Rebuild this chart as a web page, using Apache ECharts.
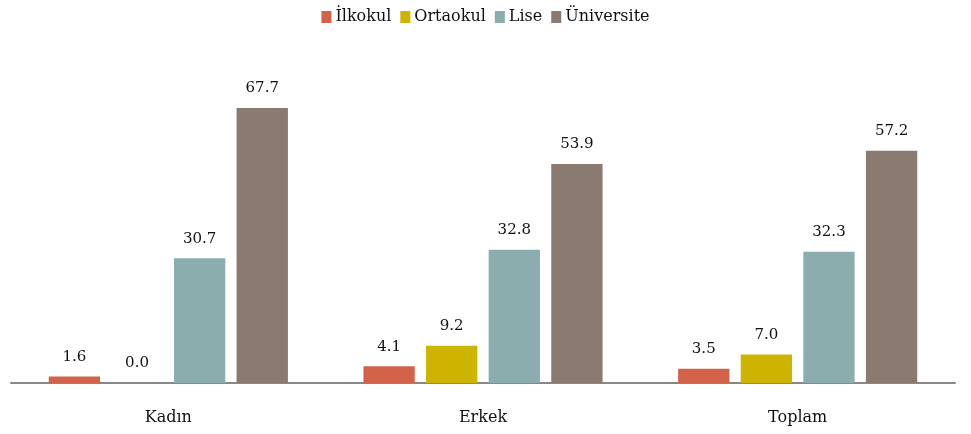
<!DOCTYPE html>
<html>
<head>
<meta charset="utf-8">
<script src="https://cdn.jsdelivr.net/npm/echarts@6/dist/echarts.min.js"></script>
<style>
  html, body { margin: 0; padding: 0; background: #fff; }
  #chart { width: 971px; height: 434px; }
</style>
</head>
<body>
<div id="chart"></div>
<script>
const categories = ['Kadın', 'Erkek', 'Toplam']
const seriesNames = ['İlkokul', 'Ortaokul', 'Lise', 'Üniversite']
const ilkokul = [1.6, 4.1, 3.5]
const ortaokul = [0.0, 9.2, 7.0]
const lise = [30.7, 32.8, 32.3]
const universite = [67.7, 53.9, 57.2]

const colors = ['#D2634A', '#CDB400', '#8BADAD', '#8B7A6F']
const fontFamily = '"DejaVu Serif", "Liberation Serif", serif'

const chart = echarts.init(document.getElementById('chart'))

function makeSeries(name, data) {
  return {
    name: name,
    type: 'bar',
    data: data,
    barGap: '22%',
    barCategoryGap: '24%',
    label: {
      show: true,
      position: 'top',
      distance: 12,
      color: '#111',
      fontFamily: fontFamily,
      fontSize: 15,
      formatter: (p) => p.value.toFixed(1),
    },
  }
}

const option = {
  animation: false,
  color: colors,
  textStyle: { fontFamily: fontFamily },
  legend: {
    top: 4,
    left: 'center',
    itemWidth: 10,
    itemHeight: 12,
    itemGap: 9,
    icon: 'rect',
    textStyle: { color: '#111', fontSize: 16, fontFamily: fontFamily, padding: [0, 0, 0, -1] },
    data: seriesNames,
  },
  grid: {
    left: 11,
    right: 16,
    top: 58,
    bottom: 51,
    containLabel: false,
  },
  xAxis: {
    type: 'category',
    data: categories,
    axisTick: { show: false },
    axisLine: { lineStyle: { color: '#888', width: 2 } },
    axisLabel: {
      color: '#111',
      fontSize: 16,
      fontFamily: fontFamily,
      margin: 27,
    },
  },
  yAxis: {
    type: 'value',
    min: 0,
    max: 80,
    show: false,
    splitLine: { show: false },
  },
  series: [
    makeSeries(seriesNames[0], ilkokul),
    makeSeries(seriesNames[1], ortaokul),
    makeSeries(seriesNames[2], lise),
    makeSeries(seriesNames[3], universite),
  ],
}

chart.setOption(option)
</script>
</body>
</html>
